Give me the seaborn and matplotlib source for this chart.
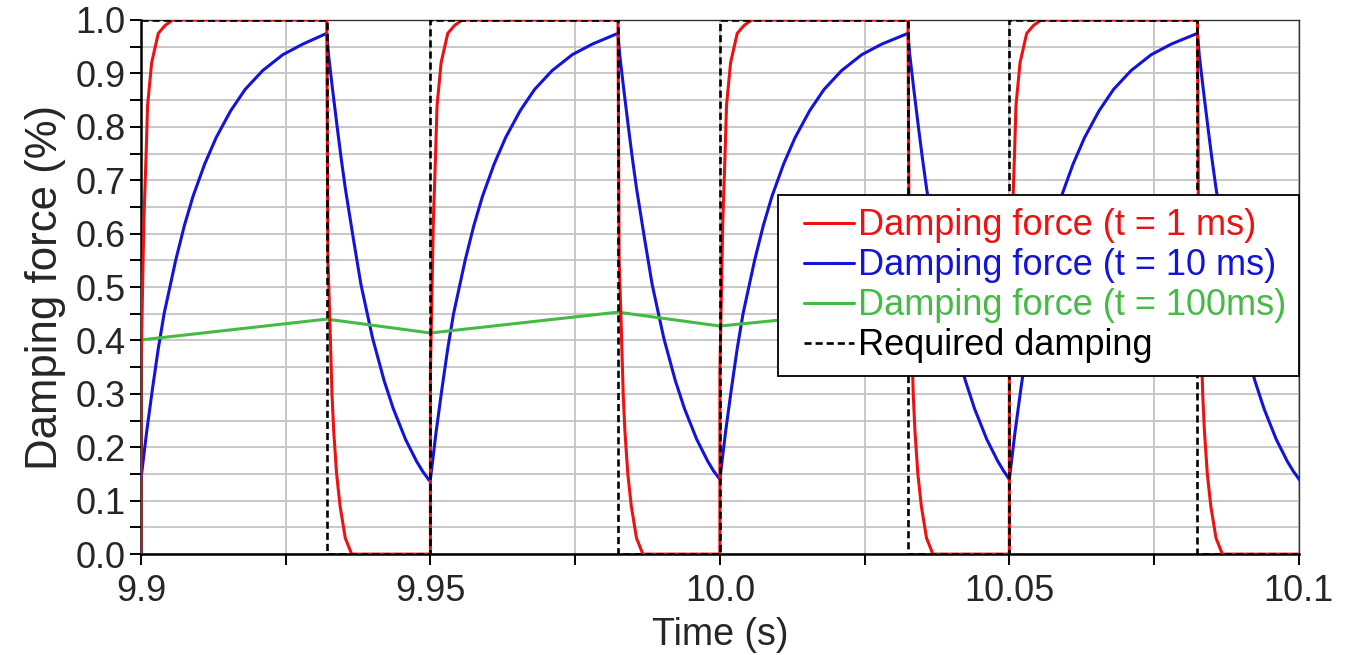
import matplotlib
matplotlib.use("Agg")
import numpy as np
import matplotlib.pyplot as plt
from matplotlib.legend_handler import HandlerLine2D
import seaborn as sns

# Switching instants of the required damping signal (s)
switch_on = [9.90, 9.95, 10.00, 10.05]
switch_off = [9.9321, 9.9824, 10.0325, 10.0825]
t_start, t_end = 9.90, 10.10

# Damper with 1 ms time constant: offsets (ms) after each switch and force levels
fast_rise_ms = [0.0, 0.0, 0.5, 0.9, 1.15, 1.85, 3.0, 4.2, 5.5]
fast_rise = [0.0, 0.34, 0.62, 0.75, 0.84, 0.92, 0.975, 0.99, 1.0]
fast_fall_ms = [0.0, 0.2, 0.5, 0.9, 1.2, 1.7, 2.3, 3.2, 4.3]
fast_fall = [1.0, 0.55, 0.45, 0.30, 0.23, 0.15, 0.09, 0.03, 0.0]

# Damper with 10 ms time constant
mid_rise_ms = [0.0, 0.5, 1.0, 1.5, 2.0, 3.0, 4.0, 5.0, 6.0, 7.5, 9.0, 11.0, 13.0,
               15.5, 18.0, 21.0, 24.5, 28.0]
mid_rise = [0.14, 0.185, 0.23, 0.27, 0.31, 0.385, 0.45, 0.50, 0.55, 0.615, 0.67, 0.73,
            0.78, 0.83, 0.87, 0.905, 0.935, 0.955]
mid_fall_ms = [0.0, 0.3, 1.0, 1.85, 2.5, 3.2, 4.6, 5.9, 7.0, 7.9, 9.9, 11.5, 12.5,
               13.6, 15.5, 16.5, 17.7]
mid_fall = [0.975, 0.935, 0.87, 0.795, 0.74, 0.685, 0.59, 0.505, 0.45, 0.405, 0.325,
            0.272, 0.245, 0.215, 0.174, 0.156, 0.138]

# Damper with 100 ms time constant: level at each switching instant
slow_t = [9.90, 9.9321, 9.95, 9.9824, 10.00, 10.0325, 10.05, 10.0825, 10.10]
slow = [0.401, 0.440, 0.414, 0.453, 0.427, 0.462, 0.437, 0.470, 0.447]

series_labels = ["Damping force (t = 1 ms)", "Damping force (t = 10 ms)",
                 "Damping force (t = 100ms)", "Required damping"]
series_colors = ["#ee1111", "#1414d8", "#45bb45", "#000000"]

x_major = [9.90, 9.95, 10.00, 10.05, 10.10]
x_major_labels = ["9.9", "9.95", "10.0", "10.05", "10.1"]
y_major = [0.0, 0.1, 0.2, 0.3, 0.4, 0.5, 0.6, 0.7, 0.8, 0.9, 1.0]
y_major_labels = ["0.0", "0.1", "0.2", "0.3", "0.4", "0.5", "0.6", "0.7", "0.8", "0.9", "1.0"]


def build_response(rise_ms, rise, fall_ms, fall):
    t, y = [], []
    n = len(switch_on)
    for i, (on, off) in enumerate(zip(switch_on, switch_off)):
        nxt = switch_on[i + 1] if i + 1 < n else None
        for dt, v in zip(rise_ms, rise):
            if on + dt / 1000.0 < off:
                t.append(on + dt / 1000.0)
                y.append(v)
        for dt, v in zip(fall_ms, fall):
            tt = off + dt / 1000.0
            if nxt is None or tt < nxt:
                t.append(tt)
                y.append(v)
    if t[-1] < t_end:
        t.append(t_end)
        y.append(y[-1])
    return t, y


def build_required():
    t, y = [t_start], [1.0]
    for i, (on, off) in enumerate(zip(switch_on, switch_off)):
        if i > 0:
            t += [on, on]
            y += [0.0, 1.0]
        t += [off, off]
        y += [1.0, 0.0]
    t.append(t_end)
    y.append(0.0)
    return t, y


class LeadInLine(HandlerLine2D):
    """Legend line handle that leaves a blank lead-in before the stroke."""

    def __init__(self, lead=0.36, **kw):
        super().__init__(**kw)
        self.lead = lead

    def create_artists(self, legend, orig_handle, xdescent, ydescent, width,
                       height, fontsize, trans):
        arts = super().create_artists(legend, orig_handle, xdescent, ydescent,
                                      width, height, fontsize, trans)
        for a in arts:
            x = np.asarray(a.get_xdata(), dtype=float)
            if len(x) > 1:
                a.set_xdata(np.linspace(x[0] + self.lead * fontsize, x[-1], len(x)))
        return arts


fast_t, fast_y = build_response(fast_rise_ms, fast_rise, fast_fall_ms, fast_fall)
mid_t, mid_y = build_response(mid_rise_ms, mid_rise, mid_fall_ms, mid_fall)
req_t, req_y = build_required()

sns.set_style("white")
plt.rcParams["font.family"] = ["Liberation Sans", "DejaVu Sans"]

fig = plt.figure(figsize=(13.63, 6.55), dpi=100)
ax = fig.add_axes([0.1034, 0.154, 0.8495, 0.8155])

lw = 2.2
sns.lineplot(x=mid_t, y=mid_y, sort=False, estimator=None, color=series_colors[1],
             lw=lw, label=series_labels[1], ax=ax, zorder=3)
sns.lineplot(x=slow_t, y=slow, sort=False, estimator=None, color=series_colors[2],
             lw=lw, label=series_labels[2], ax=ax, zorder=3.2)
sns.lineplot(x=fast_t, y=fast_y, sort=False, estimator=None, color=series_colors[0],
             lw=lw, label=series_labels[0], ax=ax, zorder=3.4)
sns.lineplot(x=req_t, y=req_y, sort=False, estimator=None, color=series_colors[3],
             lw=1.9, label=series_labels[3], ax=ax, zorder=3.6)
req_line = ax.get_lines()[-1]
req_line.set_dashes((2.7, 1.5))

ax.set_xlim(t_start, t_end)
ax.set_ylim(0.0, 1.0)
ax.set_xticks(x_major, x_major_labels)
ax.set_xticks([9.925, 9.975, 10.025, 10.075], minor=True)
ax.set_yticks(y_major, y_major_labels)
ax.set_yticks([0.05 + 0.1 * k for k in range(10)], minor=True)

ax.grid(which="both", color="#c4c4c4", lw=1.3)
ax.set_axisbelow(True)

ax.tick_params(which="both", direction="out", length=8, width=1.4, color="black",
               bottom=True, left=True, top=False, right=False)
ax.tick_params(axis="x", which="major", labelsize=26, pad=6)
ax.tick_params(axis="y", which="major", labelsize=26, pad=3)

for side in ("left", "bottom"):
    ax.spines[side].set_color("black")
    ax.spines[side].set_linewidth(1.8)
for side in ("top", "right"):
    ax.spines[side].set_color("#333333")
    ax.spines[side].set_linewidth(1.0)

ax.set_xlabel("Time (s)", fontsize=27, labelpad=6)
ax.set_ylabel("Damping force (%)", fontsize=31.5, labelpad=7)

handles = {ln.get_label(): ln for ln in ax.get_lines()}
leg = ax.legend([handles[s] for s in series_labels], series_labels,
                loc="upper right", bbox_to_anchor=(1.0, 0.672), borderaxespad=0.0,
                fontsize=26, frameon=True, fancybox=False, framealpha=1.0,
                edgecolor="black", handlelength=1.75, handletextpad=0.1,
                labelspacing=0.14, borderpad=0.36,
                handler_map={ln: LeadInLine() for ln in handles.values()})
leg.get_frame().set_linewidth(1.3)
for txt, col in zip(leg.get_texts(), series_colors):
    txt.set_color(col)

fig.savefig("out.png", dpi=100)
